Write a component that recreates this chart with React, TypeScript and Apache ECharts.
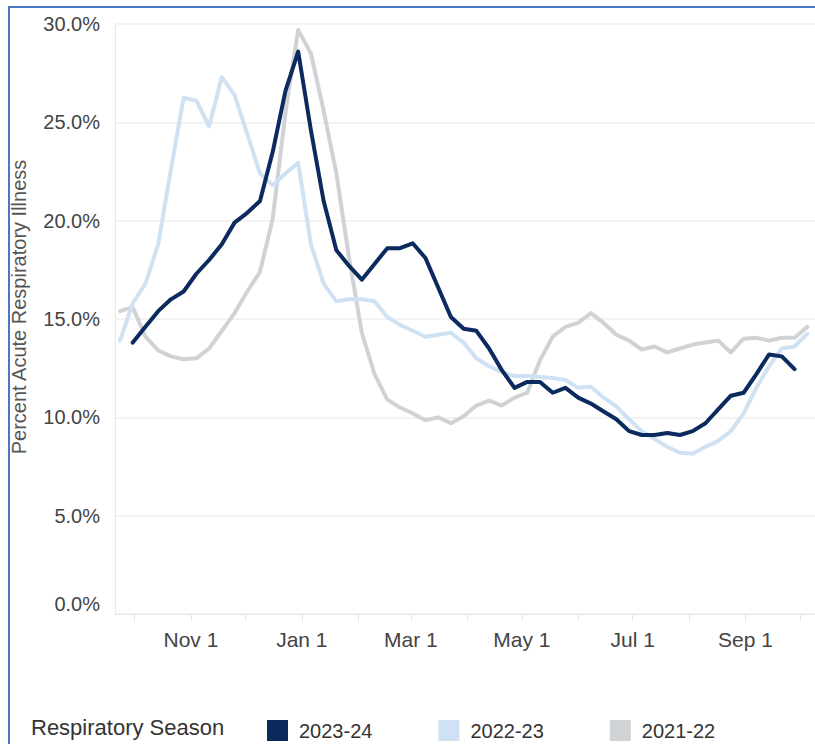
import React, { useEffect, useRef } from 'react';
import * as echarts from 'echarts';

// ---- Data ----
const seasonNames = ['2023-24', '2022-23', '2021-22'];
const seasonColors = ['#0b2a5e', '#cfe2f3', '#cfd3d6'];

// weekly points; first week ending on this date (aligned to the 2023-24 calendar)
const firstWeekEnding = '2023-09-23';
// 2023-24 starts one week later (week ending 2023-09-30)
const season2324Offset = 1;

const season2324 = [
  13.8, 14.6, 15.4, 16.0, 16.4, 17.3, 18.0, 18.8, 19.9, 20.4,
  21.0, 23.5, 26.6, 28.6, 24.6, 21.0, 18.5, 17.7, 17.0, 17.8,
  18.6, 18.6, 18.85, 18.1, 16.6, 15.1, 14.5, 14.4, 13.5, 12.4,
  11.5, 11.8, 11.8, 11.25, 11.5, 11.0, 10.7, 10.3, 9.9, 9.3,
  9.1, 9.1, 9.2, 9.1, 9.3, 9.7, 10.4, 11.1, 11.25, 12.2,
  13.2, 13.1, 12.45,
];

const season2223 = [
  13.9, 15.8, 16.8, 18.8, 22.6, 26.25, 26.1, 24.8, 27.3, 26.4,
  24.4, 22.4, 21.8, 22.4, 22.95, 18.8, 16.8, 15.9, 16.0, 16.0,
  15.9, 15.1, 14.7, 14.4, 14.1, 14.2, 14.3, 13.8, 13.0, 12.6,
  12.3, 12.1, 12.1, 12.05, 12.0, 11.9, 11.5, 11.55, 11.0, 10.55,
  9.9, 9.3, 8.9, 8.5, 8.2, 8.15, 8.5, 8.8, 9.3, 10.2,
  11.5, 12.6, 13.5, 13.6, 14.25,
];

const season2122 = [
  15.4, 15.6, 14.1, 13.4, 13.1, 12.95, 13.0, 13.5, 14.4, 15.3,
  16.4, 17.4, 20.1, 25.5, 29.7, 28.5, 25.6, 22.4, 18.1, 14.3,
  12.2, 10.9, 10.5, 10.2, 9.85, 10.0, 9.7, 10.05, 10.6, 10.85,
  10.6, 11.0, 11.25, 12.9, 14.1, 14.6, 14.8, 15.3, 14.8, 14.2,
  13.9, 13.45, 13.6, 13.3, 13.5, 13.7, 13.8, 13.9, 13.3, 14.0,
  14.05, 13.9, 14.05, 14.05, 14.6,
];

const xMin = '2023-09-20T06:00:00Z';
const xMax = '2024-10-09T06:00:00Z';
const monthTicks = [
  '2023-10-01', '2023-11-01', '2023-12-01', '2024-01-01', '2024-02-01', '2024-03-01',
  '2024-04-01', '2024-05-01', '2024-06-01', '2024-07-01', '2024-08-01', '2024-09-01', '2024-10-01',
];
const labelTicks = ['2023-11-01', '2024-01-01', '2024-03-01', '2024-05-01', '2024-07-01', '2024-09-01'];
const monthNames = ['Jan', 'Feb', 'Mar', 'Apr', 'May', 'Jun', 'Jul', 'Aug', 'Sep', 'Oct', 'Nov', 'Dec'];

const yMin = 0;
const yMax = 30;
const yStep = 5;

const legendTitle = 'Respiratory Season';
const yTitle = 'Percent Acute Respiratory Illness';

const DAY = 86400000;
const ts = (iso: string) => Date.parse(iso.length === 10 ? iso + 'T00:00:00Z' : iso);

function toSeries(values: number[], offsetWeeks: number) {
  const start = ts(firstWeekEnding);
  return values.map((v, i) => [start + (i + offsetWeeks) * 7 * DAY, v]);
}

const FONT = 'Arial, "Liberation Sans", Helvetica, sans-serif';

export default function App() {
  const ref = useRef<HTMLDivElement>(null);

  useEffect(() => {
    if (!ref.current) return;
    const chart = echarts.init(ref.current, undefined, { renderer: 'svg' });

    const seriesData = [
      toSeries(season2324, season2324Offset),
      toSeries(season2223, 0),
      toSeries(season2122, 0),
    ];

    // draw order: oldest at the back
    const order = [2, 1, 0];
    const series = order.map((i) => ({
      name: seasonNames[i],
      type: 'line',
      data: seriesData[i],
      showSymbol: false,
      symbol: 'none',
      color: seasonColors[i],
      itemStyle: { color: seasonColors[i] },
      lineStyle: { color: seasonColors[i], width: 4, join: 'round', cap: 'round' },
      emphasis: { disabled: true },
      z: 3 - i,
    }));

    chart.setOption({
      animation: false,
      textStyle: { fontFamily: FONT },
      grid: { left: 115, right: 0, top: 24, bottom: 130, containLabel: false },
      xAxis: {
        type: 'value',
        min: ts(xMin),
        max: ts(xMax),
        axisLine: { show: true, lineStyle: { color: '#e8e8e8', width: 1 } },
        axisTick: {
          show: true,
          customValues: monthTicks.map(ts),
          length: 7,
          lineStyle: { color: '#e3e3e3', width: 1 },
        },
        axisLabel: {
          customValues: labelTicks.map(ts),
          formatter: (v: number) => {
            const d = new Date(v);
            return `${monthNames[d.getUTCMonth()]} ${d.getUTCDate()}`;
          },
          fontSize: 21,
          color: '#444',
          margin: 15,
          fontFamily: FONT,
          showMinLabel: true,
          showMaxLabel: true,
        },
        splitLine: { show: false },
      },
      yAxis: {
        type: 'value',
        min: yMin,
        max: yMax,
        interval: yStep,
        axisLine: { show: true, lineStyle: { color: '#e8e8e8', width: 1 } },
        axisTick: { show: false },
        axisLabel: {
          formatter: (v: number) => v.toFixed(1) + '%',
          fontSize: 20,
          color: '#444',
          margin: 15,
          fontFamily: FONT,
          verticalAlignMinLabel: 'bottom',
        },
        splitLine: { show: true, lineStyle: { color: '#efefef', width: 1.5 } },
      },
      legend: {
        data: seasonNames,
        left: 262,
        top: 715,
        orient: 'horizontal',
        icon: 'rect',
        itemWidth: 21,
        itemHeight: 21,
        itemGap: 66,
        selectedMode: false,
        textStyle: { fontSize: 20, color: '#333', fontFamily: FONT, padding: [0, 0, 0, 6] },
      },
      graphic: [
        {
          type: 'rect',
          silent: true,
          shape: { x: 8, y: 6, width: 2, height: 738 },
          style: { fill: '#4a76c6' },
        },
        {
          type: 'rect',
          silent: true,
          shape: { x: 8, y: 6, width: 807, height: 2 },
          style: { fill: '#4a76c6' },
        },
        {
          type: 'text',
          x: 19,
          y: 307,
          rotation: Math.PI / 2,
          silent: true,
          style: {
            text: yTitle,
            fontSize: 20,
            fill: '#555',
            fontFamily: FONT,
            align: 'center',
            verticalAlign: 'middle',
          },
        },
        {
          type: 'text',
          x: 31,
          y: 727,
          silent: true,
          style: {
            text: legendTitle,
            fontSize: 22,
            fill: '#333',
            fontFamily: FONT,
            align: 'left',
            verticalAlign: 'middle',
          },
        },
      ],
      series,
    });

    return () => chart.dispose();
  }, []);

  return (
    <div
      ref={ref}
      style={{ position: 'fixed', left: 0, top: 0, width: 815, height: 744, background: '#fff' }}
    />
  );
}
